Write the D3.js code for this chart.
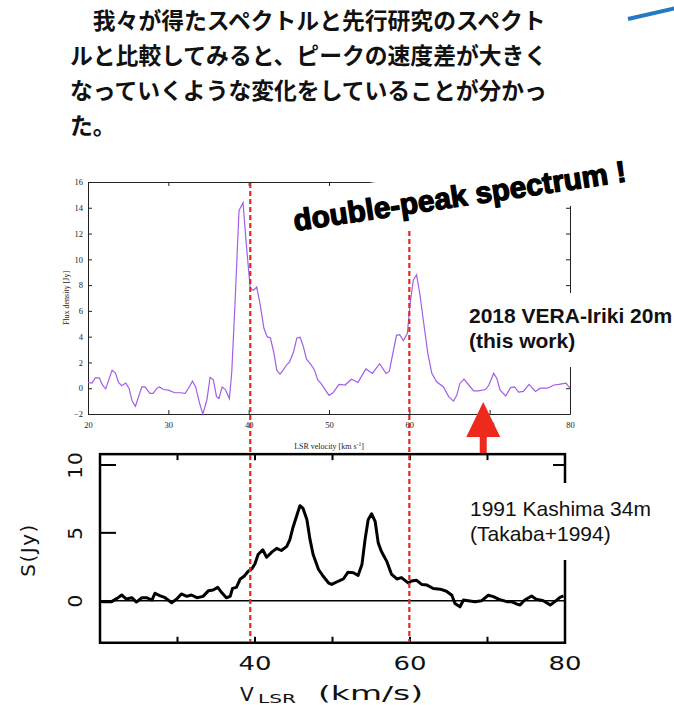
<!DOCTYPE html>
<html><head><meta charset="utf-8">
<script src="https://cdn.jsdelivr.net/npm/d3@7"></script>
<style>body{margin:0;background:#fff}</style>
</head><body>
<svg id="c" width="674" height="705"></svg>
<script>
const titleLines = [
  "\u3000我々が得たスペクトルと先行研究のスペクト",
  "ルと比較してみると、ピークの速度差が大きく",
  "なっていくような変化をしていることが分かっ",
  "た。"
];
// 2018 VERA-Iriki 20m spectrum (this work)
const topV = [20.0,20.5,20.9,21.4,21.8,22.2,23.0,23.4,23.8,24.2,24.7,25.1,25.5,25.9,26.7,27.1,27.7,28.1,28.6,28.9,29.4,30.0,30.8,31.5,32.1,32.5,33.0,33.4,33.9,34.3,34.8,35.2,35.6,36.0,36.3,36.7,37.1,37.6,37.9,38.3,38.8,39.3,39.7,40.2,40.6,41.0,41.4,41.9,42.3,42.7,43.1,43.5,43.9,44.3,44.7,45.1,45.6,46.0,46.4,46.8,47.2,47.8,48.2,48.6,49.0,50.0,50.5,51.25,52.0,52.8,53.6,54.6,55.4,56.3,57.1,57.5,58.4,58.8,59.25,59.75,60.1,60.5,60.9,61.3,61.8,62.3,62.8,63.4,64.25,64.9,65.5,65.9,66.3,66.8,67.4,68.0,68.6,69.5,69.9,70.5,70.9,71.3,72.0,72.6,73.1,73.6,74.2,74.9,75.7,76.3,77.2,78.0,78.6,79.5,80.0];
const topFlux = [0.45,0.4,0.8,0.8,0.25,-0.05,1.4,1.2,0.45,0.2,0.4,0.0,-1.0,-1.4,0.1,0.1,-0.4,-0.4,0.0,0.1,-0.1,-0.15,-0.35,-0.35,-0.4,0.0,0.55,0.1,-1.2,-2.0,-0.9,0.85,0.65,-0.65,-0.8,0.1,-0.1,-0.8,1.3,6.6,13.8,14.4,11.2,7.75,7.6,7.85,6.6,4.65,4.0,3.9,2.85,1.4,1.1,1.4,1.8,2.05,2.85,3.9,3.95,3.25,2.25,1.8,1.4,0.65,0.37,-0.55,-0.35,0.3,0.25,0.7,0.45,1.5,1.15,1.9,1.15,1.3,4.1,4.15,3.7,4.25,6.6,8.4,8.8,7.35,5.0,2.7,1.15,0.5,0.1,-0.65,-1.0,-0.55,0.37,0.7,0.25,-0.2,-0.2,-0.1,0.25,1.15,0.75,-0.15,-0.6,0.05,0.1,-0.3,-0.25,0.3,-0.25,0.0,0.0,0.25,0.3,0.4,0.0];
// 1991 Kashima 34m spectrum (Takaba+1994)
const kashimaV = [20.0,20.4,21.5,22.2,22.8,23.4,24.1,24.7,25.4,26.0,26.7,27.1,27.7,28.4,29.25,29.9,30.5,31.2,31.8,32.5,33.3,34.0,34.6,35.2,35.7,36.3,36.8,37.1,37.6,38.1,38.6,39.1,39.6,40.0,40.4,41.0,41.5,42.2,42.8,43.4,44.1,44.5,44.9,45.4,45.8,46.2,46.7,47.1,47.5,48.2,48.8,49.5,49.9,50.8,51.4,52.0,52.7,53.3,53.8,54.2,54.6,55.05,55.5,55.9,56.3,57.0,57.6,58.3,58.9,59.8,60.2,60.85,61.5,62.2,63.0,63.9,64.7,65.4,65.8,66.45,66.9,67.5,68.4,69.25,70.1,70.75,71.5,72.5,73.1,73.8,74.2,74.8,75.7,76.3,77.2,78.1,78.7,79.35,79.8];
const kashimaS = [-0.05,-0.07,-0.07,0.17,0.42,0.12,0.22,-0.1,0.22,0.22,0.05,0.55,0.37,0.22,-0.15,0.12,0.5,0.32,0.42,0.22,0.32,0.74,0.79,0.98,0.6,0.22,0.32,0.91,0.98,1.6,1.8,2.15,2.35,2.72,3.4,3.75,3.2,3.6,3.86,3.7,4.0,4.5,5.4,6.3,7.0,6.8,5.96,4.5,3.4,2.3,1.8,1.3,1.2,1.45,1.6,2.1,2.06,1.86,2.66,4.5,5.96,6.4,5.85,4.26,3.65,2.9,1.96,1.6,1.7,1.3,1.45,1.5,1.2,1.15,0.9,0.85,0.7,0.4,-0.2,-0.45,0.05,0.0,-0.07,0.0,0.4,0.3,0.1,-0.07,-0.07,-0.25,-0.32,0.05,0.35,0.1,0.0,-0.32,-0.07,0.25,0.35];
const topXTicks = [20,30,40,50,60,70,80];
const topYTicks = [-2,0,2,4,6,8,10,12,14,16];
const botXTicks = [40,60,80];
const botXMinor = [30,40,50,60,70];
const botYTicks = [0,5,10];
const markerV = [40.2, 60.0];
const arrowV = 69.2;

const svg = d3.select("#c");
svg.append("rect").attr("width",674).attr("height",705).attr("fill","#fff");

// title text
titleLines.forEach((t,i)=>{
  svg.append("text").attr("x",70).attr("y",29+35*i)
    .attr("font-family","'Noto Sans CJK JP'").attr("font-size",22.8).attr("font-weight","bold")
    .attr("fill","#111").text(t);
});
// blue stroke top right
svg.append("line").attr("x1",628).attr("y1",19).attr("x2",676).attr("y2",8)
  .attr("stroke","#2479c2").attr("stroke-width",4);

// ---------- top chart ----------
const xT = d3.scaleLinear().domain([20,80]).range([88,570]);
const yT = d3.scaleLinear().domain([-2,16]).range([414,182]);
const gT = svg.append("g").attr("font-family","'Liberation Serif'");
function styleAx(g){ g.selectAll("path,line").attr("stroke","#222").attr("stroke-width",1);
  g.selectAll("text").attr("font-family","'Liberation Serif'").attr("font-size",8.5).attr("fill","#222"); }
gT.append("g").attr("transform","translate(0,414)")
  .call(d3.axisBottom(xT).tickValues(topXTicks).tickSize(-4).tickSizeOuter(0).tickPadding(8)).call(styleAx);
gT.append("g").attr("transform","translate(0,182)")
  .call(d3.axisTop(xT).tickValues(topXTicks).tickSize(-4).tickSizeOuter(0).tickFormat("")).call(styleAx);
gT.append("g").attr("transform","translate(88,0)")
  .call(d3.axisLeft(yT).tickValues(topYTicks).tickSize(-4).tickSizeOuter(0).tickPadding(5)).call(styleAx);
gT.append("g").attr("transform","translate(570,0)")
  .call(d3.axisRight(yT).tickValues(topYTicks).tickSize(-4).tickSizeOuter(0).tickFormat("")).call(styleAx);
const lx = gT.append("text").attr("x",329).attr("y",449).attr("text-anchor","middle")
  .attr("font-size",8).attr("fill","#222");
lx.append("tspan").text("LSR velocity [km s");
lx.append("tspan").attr("font-size",5.5).attr("dy",-3).text("-1");
lx.append("tspan").attr("dy",3).text("]");
gT.append("text").attr("transform","translate(69,298) rotate(-90)").attr("text-anchor","middle")
  .attr("font-size",8).attr("fill","#222").text("Flux density [Jy]");
const topData = topV.map((v,i)=>[v,topFlux[i]]);
gT.append("path").datum(topData).attr("fill","none").attr("stroke","#a35de6").attr("stroke-width",1.2)
  .attr("d", d3.line().x(d=>xT(d[0])).y(d=>yT(d[1])));

// ---------- bottom chart ----------
const xB = d3.scaleLinear().domain([20,80]).range([100,565]);
const yB = d3.scaleLinear().domain([0,10]).range([600.7,465]);
const gB = svg.append("g");
const fy0 = yB(-3.1), fy1 = yB(10.8);
gB.append("rect").attr("x",xB(20)).attr("y",fy1).attr("width",xB(80)-xB(20)).attr("height",fy0-fy1)
  .attr("fill","none").attr("stroke","#000").attr("stroke-width",2.5);
botXMinor.forEach(v=>{
  gB.append("line").attr("x1",xB(v)).attr("x2",xB(v)).attr("y1",fy0).attr("y2",fy0-6).attr("stroke","#000").attr("stroke-width",2);
  gB.append("line").attr("x1",xB(v)).attr("x2",xB(v)).attr("y1",fy1).attr("y2",fy1+6).attr("stroke","#000").attr("stroke-width",2);
});
botYTicks.filter(t=>t>0).forEach(t=>{
  gB.append("line").attr("x1",xB(20)).attr("x2",xB(20)+16).attr("y1",yB(t)).attr("y2",yB(t)).attr("stroke","#000").attr("stroke-width",2);
  gB.append("line").attr("x1",xB(80)).attr("x2",xB(80)-12).attr("y1",yB(t)).attr("y2",yB(t)).attr("stroke","#000").attr("stroke-width",2);
});
gB.append("line").attr("x1",xB(20)).attr("x2",xB(80)).attr("y1",yB(0)).attr("y2",yB(0)).attr("stroke","#000").attr("stroke-width",1.4);
const botData = kashimaV.map((v,i)=>[v,kashimaS[i]]);
gB.append("path").datum(botData).attr("fill","none").attr("stroke","#000").attr("stroke-width",3)
  .attr("stroke-linejoin","round").attr("d", d3.line().x(d=>xB(d[0])).y(d=>yB(d[1])));
botYTicks.forEach(t=>{
  gB.append("text").attr("transform",`translate(75,${yB(t)}) rotate(-90)`).attr("text-anchor","middle")
    .attr("dominant-baseline","central").attr("font-family","'DejaVu Sans'").attr("font-size",20)
    .attr("letter-spacing",1).attr("fill","#111").text(t);
});
gB.append("text").attr("transform","translate(28,550) rotate(-90)").attr("text-anchor","middle")
  .attr("dominant-baseline","central").attr("font-family","'DejaVu Sans'").attr("font-size",20)
  .attr("letter-spacing",1.5).attr("fill","#111").text("S(Jy)");
botXTicks.forEach(t=>{
  gB.append("text").attr("x",xB(t)).attr("y",670).attr("text-anchor","middle")
    .attr("font-family","'DejaVu Sans'").attr("font-size",19).attr("textLength",33).attr("lengthAdjust","spacingAndGlyphs")
    .attr("fill","#111").text(t);
});
gB.append("text").attr("x",240).attr("y",700.5).attr("font-family","'DejaVu Sans'").attr("font-size",20).attr("fill","#111").text("V");
gB.append("text").attr("x",258).attr("y",703).attr("font-family","'DejaVu Sans'").attr("font-size",13)
  .attr("textLength",38).attr("lengthAdjust","spacingAndGlyphs").attr("fill","#111").text("LSR");
gB.append("text").attr("x",318).attr("y",700).attr("font-family","'DejaVu Sans'").attr("font-size",19.5).attr("textLength",105)
  .attr("lengthAdjust","spacingAndGlyphs").attr("fill","#111").text("(km/s)");

// ---------- red markers ----------
markerV.forEach(v=>{
  svg.append("line").attr("x1",xT(v)).attr("x2",xT(v)).attr("y1",183).attr("y2",642)
    .attr("stroke","#e8281e").attr("stroke-width",2.2).attr("stroke-dasharray","5,3");
});
const ax = xT(arrowV);
svg.append("polygon").attr("fill","#ee2a1c")
  .attr("points",[[ax,402],[ax-17,437],[ax-3.5,437],[ax-3.5,453],[ax+3.5,453],[ax+3.5,437],[ax+17,437]].map(p=>p.join(",")).join(" "));

// ---------- annotations ----------
const gD = svg.append("g").attr("transform","translate(295,231) rotate(-8.5)");
gD.append("rect").attr("x",-8).attr("y",-36.5).attr("width",352).attr("height",52.5).attr("fill","#fff");
gD.append("text").attr("x",0).attr("y",0).attr("font-family","'Liberation Sans'").attr("font-weight","bold")
  .attr("font-size",30).attr("textLength",336).attr("lengthAdjust","spacingAndGlyphs")
  .attr("stroke","#000").attr("stroke-width",1.3).attr("stroke-linejoin","round").attr("fill","#000").text("double-peak spectrum !");

svg.append("rect").attr("x",460).attr("y",293).attr("width",214).attr("height",74).attr("fill","#fff");
svg.append("text").attr("x",469).attr("y",323).attr("font-family","'Liberation Sans'").attr("font-weight","bold")
  .attr("font-size",21).attr("fill","#111").text("2018 VERA-Iriki 20m");
svg.append("text").attr("x",469).attr("y",348).attr("font-family","'Liberation Sans'").attr("font-weight","bold")
  .attr("font-size",21).attr("fill","#111").text("(this work)");

svg.append("rect").attr("x",462).attr("y",483).attr("width",212).attr("height",77).attr("fill","#fff");
svg.append("text").attr("x",470).attr("y",516).attr("font-family","'Liberation Sans'")
  .attr("font-size",21).attr("fill","#111").text("1991 Kashima 34m");
svg.append("text").attr("x",470).attr("y",541).attr("font-family","'Liberation Sans'")
  .attr("font-size",21).attr("fill","#111").text("(Takaba+1994)");
</script>
</body></html>
